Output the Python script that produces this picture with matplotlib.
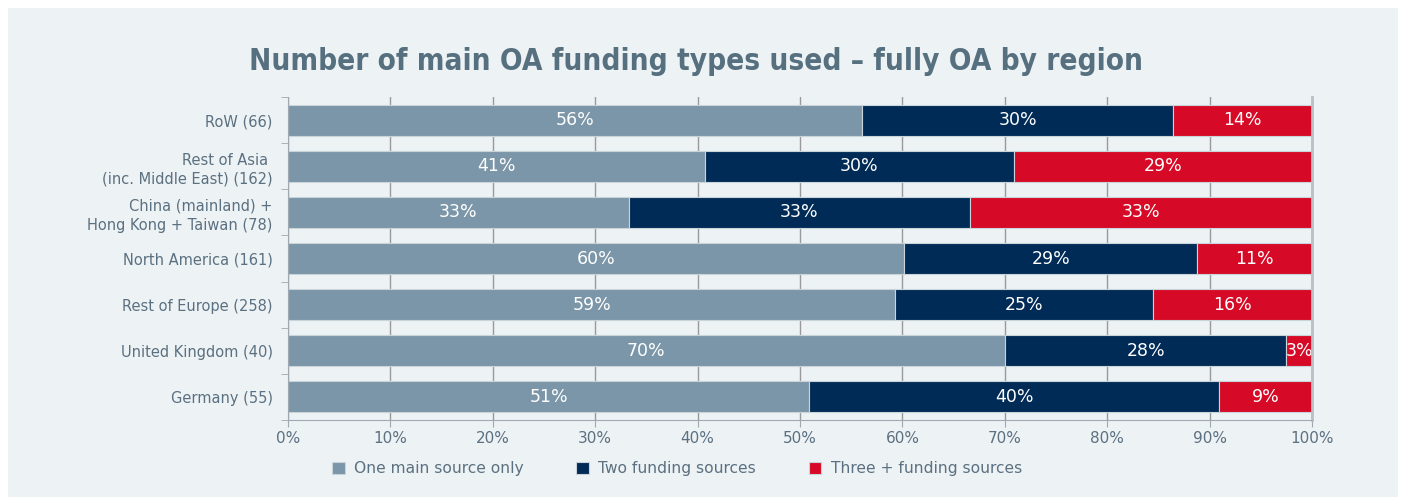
import numpy as np
import matplotlib
matplotlib.use('Agg')
import matplotlib.pyplot as plt
from matplotlib.patches import Rectangle
from matplotlib.font_manager import FontProperties, findfont

# data (shares in %)
regions = ['RoW (66)',
           'Rest of Asia \n(inc. Middle East) (162)',
           'China (mainland) +\nHong Kong + Taiwan (78)',
           'North America (161)',
           'Rest of Europe (258)',
           'United Kingdom (40)',
           'Germany (55)']
one_source = [56.1, 40.7, 33.3, 60.2, 59.3, 70.0, 50.9]
two_sources = [30.3, 30.2, 33.3, 28.6, 25.2, 27.5, 40.0]
three_sources = [13.6, 29.1, 33.4, 11.2, 15.5, 2.5, 9.1]
series_names = ['One main source only', 'Two funding sources', 'Three + funding sources']
xticks = np.arange(0, 101, 10)

colors = ['#7b96a8', '#002b57', '#d60a26']
txt = '#5b7080'
panel = '#edf2f5'

# condensed bold face for the title, if there is one
title_fp = FontProperties(family='DejaVu Sans', weight='bold', stretch='condensed', size=21.3)
try:
    fname = findfont(title_fp, fallback_to_default=False)
    condensed = 'Condensed' in fname
except Exception:
    condensed = False
if not condensed:
    title_fp = FontProperties(family='DejaVu Sans', weight='bold', size=19)

fig = plt.figure(figsize=(14.07, 5.0), dpi=100, facecolor='white')
fig.patches.append(Rectangle((8/1407, 3/500), 1390/1407, 489/500,
                             transform=fig.transFigure, facecolor=panel,
                             edgecolor='none', zorder=-10))

ax = fig.add_axes([288/1407, 80/500, 1024/1407, 323/500])
ax.set_facecolor(panel)

y = np.arange(len(regions))
left = np.zeros(len(regions))
for vals, c, name in zip([one_source, two_sources, three_sources], colors, series_names):
    vals = np.array(vals)
    ax.barh(y, vals, left=left, height=0.67, color=c, edgecolor='#c9d3da',
            linewidth=0.8, label=name, zorder=3)
    for yi, l, v in zip(y, left, vals):
        ax.text(l + v/2, yi, '%d%%' % int(v + 0.5), ha='center', va='center',
                color='white', fontsize=12.5, zorder=4)
    left = left + vals

ax.set_xlim(0, 100)
ax.set_ylim(len(regions) - 0.5, -0.5)
ax.set_xticks(xticks)
ax.set_xticklabels(['%d%%' % t for t in xticks])
ax.set_yticks(y)
ax.set_yticklabels(regions, linespacing=1.35)
ax.set_yticks(np.arange(-0.5, len(regions), 1), minor=True)
ax.tick_params(axis='y', which='major', length=0, pad=11, labelsize=10.5, labelcolor=txt)
ax.tick_params(axis='y', which='minor', length=5, color='#a0a8b0')
ax.tick_params(axis='x', length=5, color='#a0a8b0', labelsize=11, labelcolor=txt, pad=3)

ax.grid(axis='x', color='#9a9a9a', linewidth=1, zorder=0)
ax.spines['top'].set_visible(False)
ax.spines['left'].set_color('#a0a8b0')
ax.spines['bottom'].set_color('#a0a8b0')
ax.spines['right'].set_color('#b8c0c8')
ax.spines['right'].set_linewidth(2)
for s in ax.spines.values():
    s.set_zorder(5)

fig.text(696/1407, 0.876, 'Number of main OA funding types used \u2013 fully OA by region',
         ha='center', va='center', color='#56707f', fontproperties=title_fp)

leg = ax.legend(loc='center', bbox_to_anchor=(677/1407, 31/500),
                bbox_transform=fig.transFigure, ncol=3, frameon=False,
                fontsize=11.2, handlelength=0.8, handleheight=0.8,
                columnspacing=3.4, handletextpad=0.6)
for t in leg.get_texts():
    t.set_color(txt)

fig.savefig('out.png', dpi=100, facecolor='white')
